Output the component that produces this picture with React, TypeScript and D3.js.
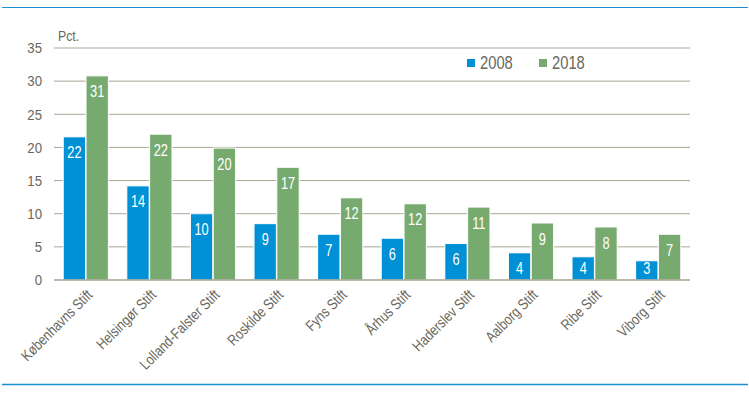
import React from "react";
import * as d3 from "d3";

// kategorier og værdier
const categories = [
    "Københavns Stift", "Helsingør Stift", "Lolland-Falster Stift", "Roskilde Stift", "Fyns Stift",
    "Århus Stift", "Haderslev Stift", "Aalborg Stift", "Ribe Stift", "Viborg Stift",
];
const seriesNames = ["2008", "2018"];
const values2008 = [21.6, 14.2, 10.0, 8.5, 6.9, 6.3, 5.5, 4.1, 3.5, 2.9];
const values2018 = [30.8, 22.0, 19.9, 17.0, 12.4, 11.5, 11.0, 8.6, 8.0, 6.9];
const yTicks = [0, 5, 10, 15, 20, 25, 30, 35];
const colors = ["#0090d6", "#77aa6f"];

const W = 749, H = 393;
const FONT = "'Liberation Sans', Arial, sans-serif";
const TEXT = "#69675c";
const GRID = "#a9a899";
// ingen smal skrift installeret -> presses vandret
const NARROW = 0.82;

export default function App() {
    const left = 54, right = 690, top = 48, bottom = 280;

    const y = d3.scaleLinear().domain([0, 35]).range([bottom, top]);
    const x0 = d3.scaleBand<string>().domain(categories).range([left, right])
        .paddingInner(0.29).paddingOuter(0.145);
    const x1 = d3.scaleBand<string>().domain(seriesNames).range([0, x0.bandwidth()]).paddingInner(0.02);

    const series = [values2008, values2018];

    return (
        <svg width={W} height={H} style={{ position: "absolute", left: 0, top: 0, background: "#fff" }}>
            {/* blå linjer top og bund */}
            <line x1={2} x2={748} y1={7.5} y2={7.5} stroke="#1b8fd1" strokeWidth={1.2} />
            <line x1={2} x2={748} y1={384.5} y2={384.5} stroke="#1b8fd1" strokeWidth={1.5} />

            {/* gitterlinjer */}
            {yTicks.map(t => (
                <g key={t}>
                    {t > 0 && <line x1={left} x2={right} y1={y(t)} y2={y(t)} stroke={GRID} strokeWidth={1} />}
                    <text transform={`translate(42,${y(t)}) scale(0.88,1)`} dy="0.35em" textAnchor="end" fontSize={15}
                        fontFamily={FONT} fill={TEXT}>{t}</text>
                </g>
            ))}
            <text transform={`translate(58,41) scale(${NARROW},1)`} fontSize={15} fontFamily={FONT} fill={TEXT}>Pct.</text>

            {/* søjler */}
            {categories.map((c, i) => (
                <g key={c} transform={`translate(${x0(c)},0)`}>
                    {series.map((vals, s) => {
                        const v = vals[i];
                        const bx = x1(seriesNames[s])!;
                        const bw = x1.bandwidth();
                        const ty = Math.min(y(v) + 16, bottom - 12);
                        return (
                            <g key={s}>
                                <rect x={bx} y={y(v)} width={bw} height={bottom - y(v)}
                                    fill={colors[s]} stroke="#fff" strokeWidth={1} />
                                <text transform={`translate(${bx + bw / 2},${ty}) scale(0.8,1)`} dy="0.35em" textAnchor="middle"
                                    fontSize={16} fontFamily={FONT} fill="#fff">{Math.round(v)}</text>
                            </g>
                        );
                    })}
                </g>
            ))}

            <line x1={left} x2={right} y1={bottom} y2={bottom} stroke="#a3a291" strokeWidth={1.5} />

            {/* kategori-etiketter */}
            {categories.map(c => {
                const cx = x0(c)! + x0.bandwidth() / 2 + 4;
                return (
                    <text key={c} transform={`translate(${cx},${bottom + 12}) rotate(-45) scale(${NARROW},1)`}
                        textAnchor="end" dy="0.35em" fontSize={15} fontFamily={FONT} fill={TEXT}>{c}</text>
                );
            })}

            {/* forklaring */}
            {seriesNames.map((n, s) => (
                <g key={n} transform={`translate(${467 + s * 72},59)`}>
                    <rect x={0} y={0} width={8} height={8} fill={colors[s]} />
                    <text transform={`translate(13,4) scale(${NARROW},1)`} dy="0.35em" fontSize={18} fontFamily={FONT} fill={TEXT}>{n}</text>
                </g>
            ))}
        </svg>
    );
}
